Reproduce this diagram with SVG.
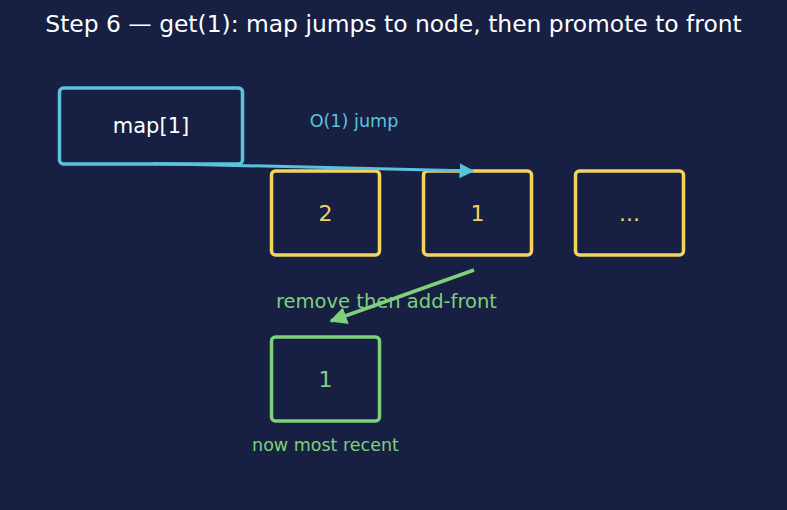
<svg xmlns="http://www.w3.org/2000/svg" width="787" height="510" viewBox="0 0 787 510">
<style>
text{font-family:"DejaVu Sans","Noto Sans",sans-serif;text-anchor:middle;dominant-baseline:central}
.box{fill:#172042;stroke-width:3.5}
.y{stroke:#f4d35e}
.yt{fill:#f4d35e;font-size:22px}
.g{stroke:#7ed07a}
</style>
<defs>
<marker id="ab" viewBox="0 0 10 10" refX="9" refY="5" markerWidth="5" markerHeight="5" orient="auto"><path d="M0,0L10,5L0,10z" fill="#5bc2dc"/></marker>
<marker id="ag" viewBox="0 0 10 10" refX="9" refY="5" markerWidth="5" markerHeight="5" orient="auto"><path d="M0,0L10,5L0,10z" fill="#7ed07a"/></marker>
</defs>
<rect width="787" height="510" fill="#172042"/>
<text x="393.5" y="24" fill="#ffffff" font-size="23.4">Step 6 — get(1): map jumps to node, then promote to front</text>
<g id="map">
<rect class="box" x="59.5" y="88" width="183" height="76" rx="4" stroke="#5bc2dc"/>
<text x="151" y="126" fill="#ffffff" font-size="21">map[1]</text>
</g>
<g id="n2"><rect class="box y" x="271.5" y="171" width="108" height="84" rx="4"/><text class="yt" x="325.5" y="213">2</text></g>
<g id="n1"><rect class="box y" x="423.5" y="171" width="108" height="84" rx="4"/><text class="yt" x="477.5" y="213">1</text></g>
<g id="n3"><rect class="box y" x="575.5" y="171" width="108" height="84" rx="4"/><text class="yt" x="629.5" y="213">...</text></g>
<g id="front"><rect class="box g" x="271.5" y="337" width="108" height="84" rx="4"/><text x="325.5" y="379" fill="#7ed07a" font-size="22">1</text></g>
<g id="connectors">
<line x1="153" y1="163.5" x2="473" y2="171" stroke="#5bc2dc" stroke-width="3" marker-end="url(#ab)"/>
<line x1="474" y1="270" x2="331" y2="321" stroke="#7ed07a" stroke-width="3.5" marker-end="url(#ag)"/>
</g>
<text x="354" y="121" fill="#5bc2dc" font-size="17.6">O(1) jump</text>
<text x="386.5" y="301" fill="#7ed07a" font-size="19.5">remove then add-front</text>
<text x="325.5" y="445" fill="#7ed07a" font-size="17.5">now most recent</text>
</svg>
